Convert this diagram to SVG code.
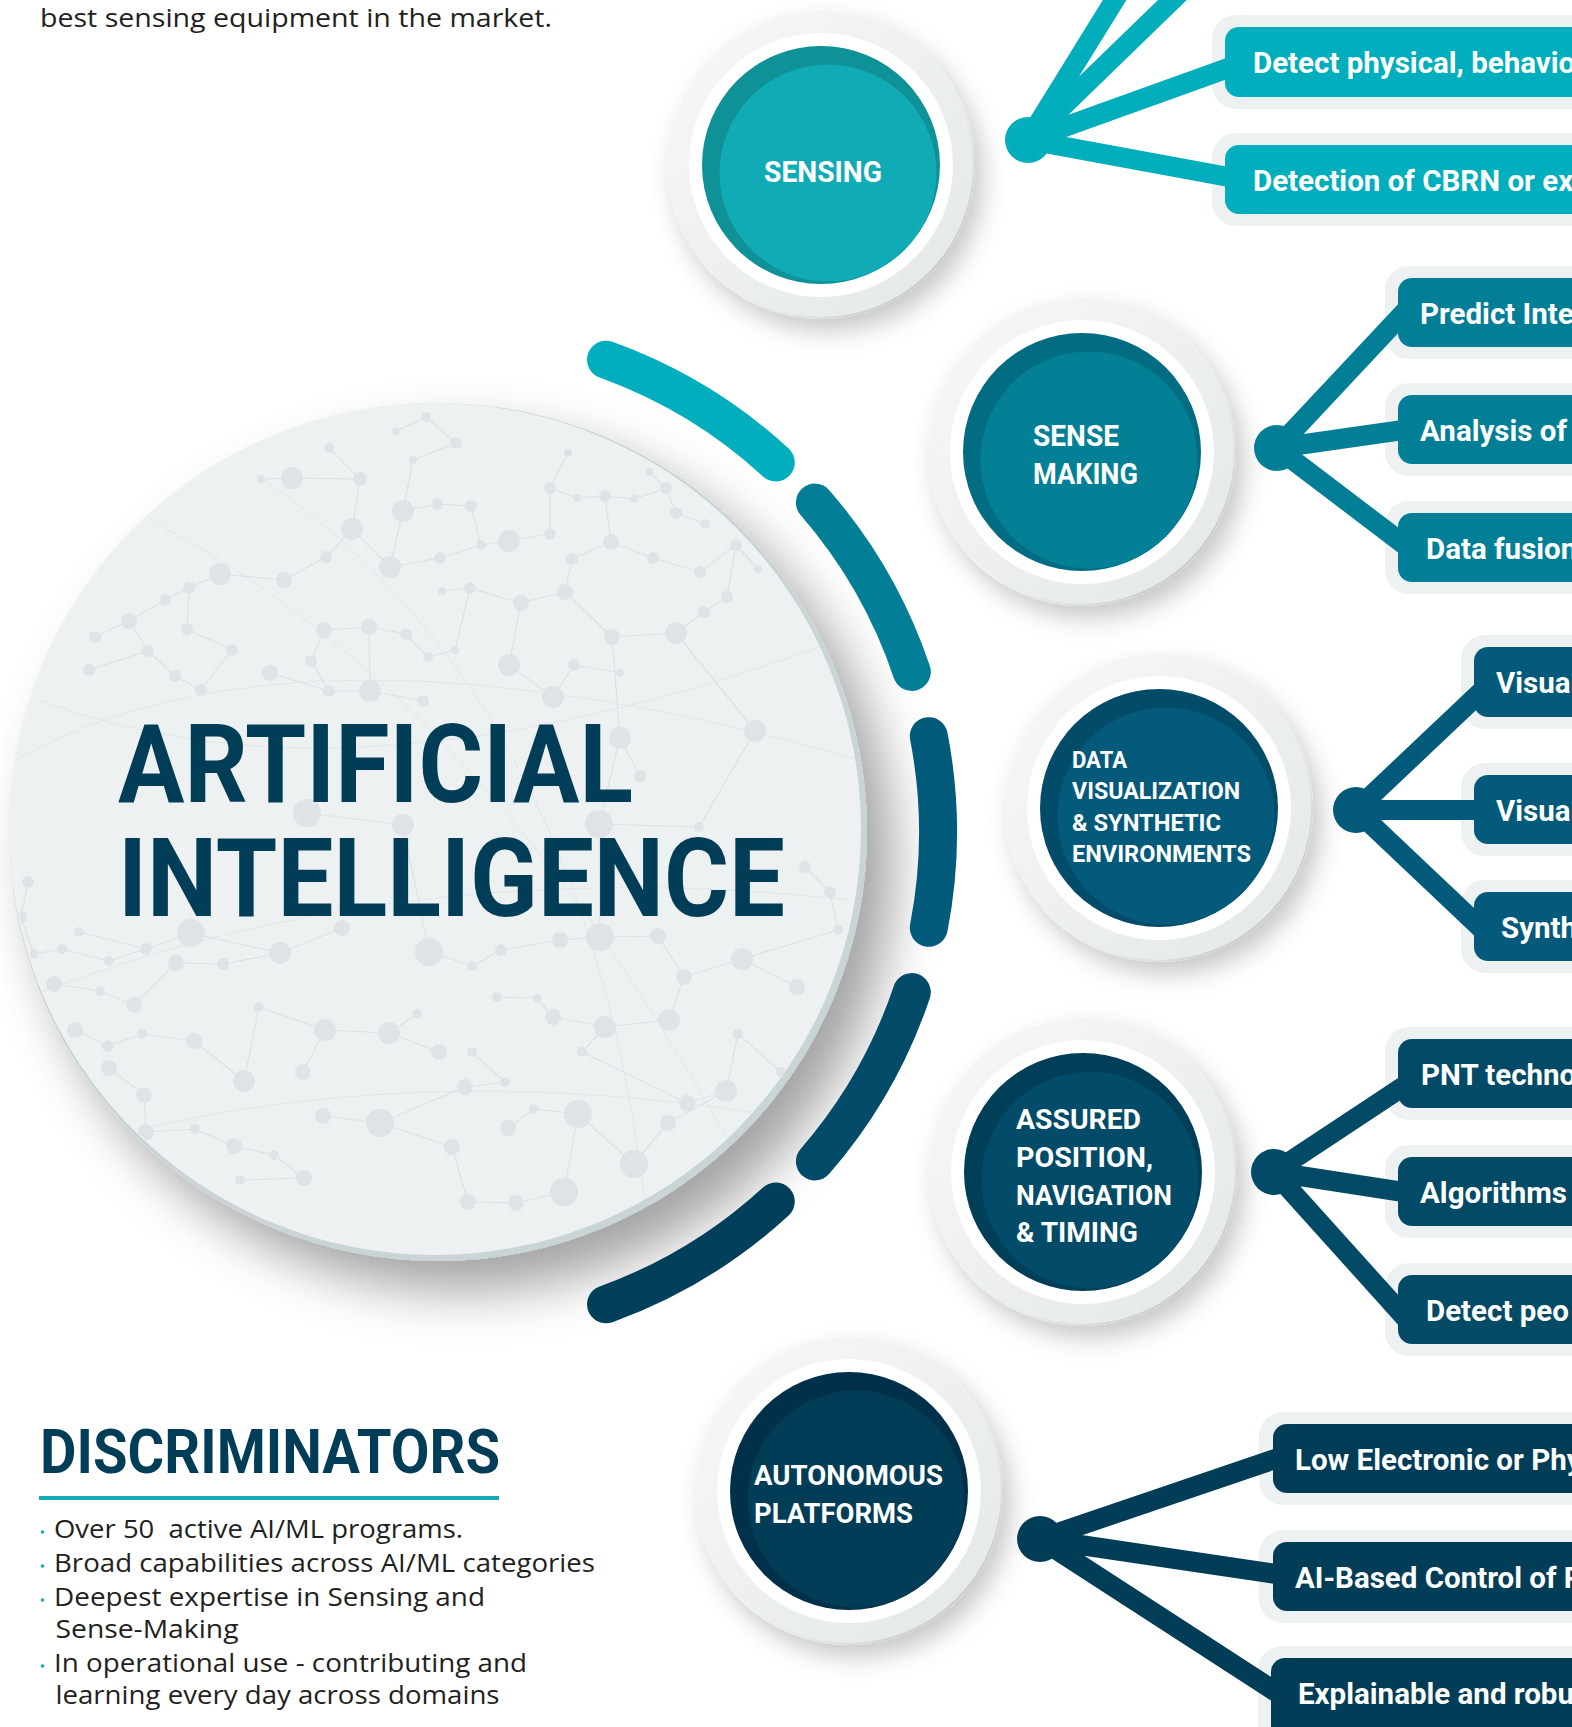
<svg xmlns="http://www.w3.org/2000/svg" width="1572" height="1727" viewBox="0 0 1572 1727">
<style>
.lbl{font-family:Roboto,"Liberation Sans",sans-serif;font-weight:700;fill:#ffffff}
.btxt{font-family:Roboto,"Liberation Sans",sans-serif;font-weight:700;font-size:29.5px;fill:#ffffff}
.body{font-family:"Open Sans","Liberation Sans",sans-serif;font-size:25px;fill:#231f20}
.halo{fill:#eef1f2}
.dot{fill:#dfe3e6}
.net{fill:none;stroke:#dde1e4;stroke-width:1.2}
.curve{fill:none;stroke:#e2e6e8;stroke-width:1}
.arc{fill:none;stroke-width:38;stroke-linecap:round}
.con{fill:none;stroke-width:20}
.bul{fill:#14a9b5}
</style>
<defs>
<linearGradient id="haloGrad" x1="0" y1="0" x2="1" y2="1">
<stop offset="0" stop-color="#f7f8f9"/>
<stop offset="1" stop-color="#e3e7e8"/>
</linearGradient>
<linearGradient id="rimGrad" x1="0" y1="0" x2="1" y2="1">
<stop offset="0.45" stop-color="#ffffff" stop-opacity="0"/>
<stop offset="1" stop-color="#a8a8a8"/>
</linearGradient>
<filter id="nshadow" x="-30%" y="-30%" width="170%" height="170%">
<feDropShadow dx="8" dy="12" stdDeviation="12" flood-color="#000" flood-opacity="0.22"/>
</filter>
<filter id="bigshadow" x="-20%" y="-20%" width="150%" height="150%">
<feDropShadow dx="26" dy="30" stdDeviation="26" flood-color="#000" flood-opacity="0.36"/>
</filter>
<clipPath id="bigclip"><circle cx="436" cy="830" r="425"/></clipPath>
</defs>
<rect width="1572" height="1727" fill="#ffffff"/>

<g id="intro-text">
<text class="body" x="40" y="27" textLength="512" lengthAdjust="spacingAndGlyphs">best sensing equipment in the market.</text>
</g>

<g id="ai-core">
<circle cx="438" cy="832" r="429" fill="#c8d4d5" filter="url(#bigshadow)"/>
<circle cx="435" cy="829" r="426" fill="#eef1f2"/>
<g clip-path="url(#bigclip)">
<path class="curve" d="M15 760Q300 600 860 760M20 1000Q400 850 850 900M60 1150Q400 1050 800 1120M150 520Q500 700 760 1200M250 470Q600 700 650 1250M40 700Q350 820 840 640"/>
<path class="net" d="M329 448L360 479M360 479L292 478M292 478L261 479M360 479L352 529M426 417L456 443M396 431L426 417M456 443L413 460M413 460L403 511M403 511L437 504M437 504L471 506M403 511L390 567M471 506L481 545M352 529L390 567M352 529L326 557M390 567L440 558M440 558L481 545M481 545L509 541M509 541L550 534M550 534L550 488M568 453L550 488M550 488L577 498M577 498L605 496M605 496L634 499M634 499L666 488M666 488L649 472M666 488L676 513M676 513L705 524M605 496L611 542M611 542L653 558M653 558L700 572M700 572L736 545M736 545L758 569M736 545L727 597M727 597L704 612M704 612L676 633M676 633L612 637M612 637L565 592M565 592L572 559M572 559L611 542M565 592L521 603M521 603L470 588M470 588L442 591M369 627L406 634M406 634L428 657M428 657L455 650M455 650L470 588M509 665L521 603M509 665L553 697M553 697L574 665M574 665L620 673M369 627L370 691M370 691L329 691M329 691L311 661M311 661L324 630M324 630L369 627M284 580L326 557M284 580L220 574M220 574L189 588M189 588L165 600M165 600L129 621M129 621L95 637M129 621L148 651M148 651L89 670M148 651L175 676M175 676L201 690M201 690L232 650M232 650L187 629M187 629L189 588M270 673L329 691M423 701L370 691M755 731L676 633M620 738L612 637M620 738L640 776M307 813L403 825M403 825L429 952M599 824L620 738M599 824L699 827M699 827L755 731M805 867L830 892M830 892L838 930M838 930L742 959M742 959L797 987M742 959L684 977M684 977L669 1020M669 1020L605 1027M605 1027L553 1017M553 1017L537 998M537 998L497 997M658 936L600 937M600 937L560 940M560 940L501 950M501 950L472 966M429 952L472 966M342 928L280 953M280 953L191 933M191 933L146 949M146 949L109 961M109 961L62 949M62 949L34 954M34 954L21 917M21 917L28 882M79 932L146 949M54 984L100 991M100 991L134 1005M134 1005L176 963M176 963L223 964M223 964L280 953M75 1030L108 1046M108 1046L142 1034M142 1034L194 1041M194 1041L244 1081M244 1081L259 1007M259 1007L325 1030M325 1030L389 1033M389 1033L417 1014M389 1033L439 1052M325 1030L303 1072M109 1068L144 1095M144 1095L146 1132M146 1132L195 1129M195 1129L234 1146M234 1146L274 1155M274 1155L304 1178M304 1178L240 1180M323 1116L380 1123M380 1123L465 1087M465 1087L505 1082M505 1082L472 1052M452 1147L468 1202M468 1202L516 1203M516 1203L564 1192M508 1128L534 1109M534 1109L578 1114M578 1114L634 1164M634 1164L668 1123M668 1123L726 1091M726 1091L738 1034M738 1034L781 1072M582 1052L687 1103M687 1103L726 1091M605 1027L582 1052M600 937L599 824M658 936L684 977M564 1192L578 1114M380 1123L452 1147"/>
<g class="dot">
<circle cx="396" cy="431" r="4"/><circle cx="426" cy="417" r="5"/><circle cx="456" cy="443" r="6"/><circle cx="413" cy="460" r="4"/><circle cx="329" cy="448" r="5"/><circle cx="360" cy="479" r="7"/><circle cx="292" cy="478" r="11"/><circle cx="261" cy="479" r="4"/><circle cx="403" cy="511" r="11"/><circle cx="437" cy="504" r="6"/><circle cx="471" cy="506" r="6"/><circle cx="352" cy="529" r="11"/><circle cx="326" cy="557" r="6"/><circle cx="390" cy="567" r="11"/><circle cx="440" cy="558" r="6"/><circle cx="481" cy="545" r="5"/><circle cx="509" cy="541" r="11"/><circle cx="550" cy="534" r="6"/><circle cx="568" cy="453" r="4"/><circle cx="550" cy="488" r="6"/><circle cx="577" cy="498" r="4"/><circle cx="605" cy="496" r="6"/><circle cx="634" cy="499" r="4"/><circle cx="666" cy="488" r="6"/><circle cx="649" cy="472" r="4"/><circle cx="676" cy="513" r="6"/><circle cx="705" cy="524" r="5"/><circle cx="611" cy="542" r="8"/><circle cx="653" cy="558" r="6"/><circle cx="700" cy="572" r="6"/><circle cx="736" cy="545" r="6"/><circle cx="758" cy="569" r="4"/><circle cx="727" cy="597" r="6"/><circle cx="704" cy="612" r="6"/><circle cx="676" cy="633" r="11"/><circle cx="612" cy="637" r="8"/><circle cx="565" cy="592" r="8"/><circle cx="572" cy="559" r="6"/><circle cx="521" cy="603" r="8"/><circle cx="470" cy="588" r="6"/><circle cx="442" cy="591" r="4"/><circle cx="369" cy="627" r="8"/><circle cx="406" cy="634" r="6"/><circle cx="428" cy="657" r="5"/><circle cx="455" cy="650" r="4"/><circle cx="509" cy="665" r="11"/><circle cx="553" cy="697" r="11"/><circle cx="574" cy="665" r="6"/><circle cx="620" cy="673" r="4"/><circle cx="370" cy="691" r="11"/><circle cx="329" cy="691" r="6"/><circle cx="311" cy="661" r="6"/><circle cx="324" cy="630" r="8"/><circle cx="284" cy="580" r="8"/><circle cx="270" cy="673" r="8"/><circle cx="220" cy="574" r="11"/><circle cx="189" cy="588" r="6"/><circle cx="165" cy="600" r="6"/><circle cx="129" cy="621" r="8"/><circle cx="95" cy="637" r="6"/><circle cx="148" cy="651" r="6"/><circle cx="89" cy="670" r="6"/><circle cx="175" cy="676" r="6"/><circle cx="201" cy="690" r="6"/><circle cx="232" cy="650" r="6"/><circle cx="187" cy="629" r="6"/><circle cx="423" cy="701" r="6"/><circle cx="755" cy="731" r="11"/><circle cx="620" cy="738" r="11"/><circle cx="640" cy="776" r="6"/><circle cx="307" cy="813" r="14"/><circle cx="403" cy="825" r="11"/><circle cx="599" cy="824" r="14"/><circle cx="699" cy="827" r="5"/><circle cx="805" cy="867" r="6"/><circle cx="830" cy="892" r="6"/><circle cx="838" cy="930" r="5"/><circle cx="742" cy="959" r="11"/><circle cx="797" cy="987" r="8"/><circle cx="684" cy="977" r="8"/><circle cx="669" cy="1020" r="11"/><circle cx="605" cy="1027" r="11"/><circle cx="553" cy="1017" r="8"/><circle cx="537" cy="998" r="4"/><circle cx="497" cy="997" r="5"/><circle cx="658" cy="936" r="8"/><circle cx="600" cy="937" r="14"/><circle cx="560" cy="940" r="8"/><circle cx="501" cy="950" r="6"/><circle cx="429" cy="952" r="14"/><circle cx="472" cy="966" r="5"/><circle cx="342" cy="928" r="8"/><circle cx="280" cy="953" r="11"/><circle cx="191" cy="933" r="14"/><circle cx="146" cy="949" r="6"/><circle cx="109" cy="961" r="5"/><circle cx="62" cy="949" r="5"/><circle cx="34" cy="954" r="5"/><circle cx="21" cy="917" r="6"/><circle cx="28" cy="882" r="6"/><circle cx="79" cy="932" r="5"/><circle cx="54" cy="984" r="8"/><circle cx="100" cy="991" r="5"/><circle cx="134" cy="1005" r="8"/><circle cx="176" cy="963" r="8"/><circle cx="223" cy="964" r="6"/><circle cx="75" cy="1030" r="8"/><circle cx="108" cy="1046" r="6"/><circle cx="142" cy="1034" r="5"/><circle cx="194" cy="1041" r="8"/><circle cx="244" cy="1081" r="11"/><circle cx="259" cy="1007" r="5"/><circle cx="325" cy="1030" r="11"/><circle cx="389" cy="1033" r="11"/><circle cx="417" cy="1014" r="5"/><circle cx="439" cy="1052" r="8"/><circle cx="303" cy="1072" r="8"/><circle cx="109" cy="1068" r="8"/><circle cx="144" cy="1095" r="8"/><circle cx="146" cy="1132" r="8"/><circle cx="195" cy="1129" r="5"/><circle cx="234" cy="1146" r="8"/><circle cx="274" cy="1155" r="5"/><circle cx="304" cy="1178" r="8"/><circle cx="240" cy="1180" r="5"/><circle cx="323" cy="1116" r="8"/><circle cx="380" cy="1123" r="14"/><circle cx="465" cy="1087" r="8"/><circle cx="505" cy="1082" r="5"/><circle cx="472" cy="1052" r="5"/><circle cx="452" cy="1147" r="8"/><circle cx="468" cy="1202" r="8"/><circle cx="516" cy="1203" r="8"/><circle cx="564" cy="1192" r="14"/><circle cx="508" cy="1128" r="8"/><circle cx="534" cy="1109" r="5"/><circle cx="578" cy="1114" r="14"/><circle cx="634" cy="1164" r="14"/><circle cx="668" cy="1123" r="8"/><circle cx="726" cy="1091" r="11"/><circle cx="738" cy="1034" r="5"/><circle cx="781" cy="1072" r="5"/><circle cx="582" cy="1052" r="5"/><circle cx="687" cy="1103" r="8"/>
</g>
</g>
<text class="lbl" x="118" y="802" font-size="109" style="fill:#023d57" textLength="515" lengthAdjust="spacingAndGlyphs">ARTIFICIAL</text>
<text class="lbl" x="118" y="916" font-size="109" style="fill:#023d57" textLength="667" lengthAdjust="spacingAndGlyphs">INTELLIGENCE</text>
</g>

<g id="ring-arcs">
<path class="arc" stroke="#01aebd" d="M606 359.7A502 502 0 0 1 775.8 462.5"/>
<path class="arc" stroke="#027f96" d="M814.9 502.6A502 502 0 0 1 911.8 671.9"/>
<path class="arc" stroke="#025a7a" d="M928.8 736.2A502 502 0 0 1 928.8 927.8"/>
<path class="arc" stroke="#024b69" d="M911.8 992.1A502 502 0 0 1 814.9 1161.4"/>
<path class="arc" stroke="#023f5a" d="M775.8 1201.5A502 502 0 0 1 606 1304.3"/>
</g>

<g id="node-sensing">
<circle cx="821" cy="165" r="154" fill="url(#haloGrad)" filter="url(#nshadow)"/>
<circle cx="821" cy="165" r="153" fill="none" stroke="url(#rimGrad)" stroke-width="2"/>
<circle cx="821" cy="165" r="132" fill="#ffffff"/>
<circle cx="821" cy="165" r="119" fill="#0e9298"/>
<circle cx="828" cy="173" r="108.5" fill="#10abb5"/>
<text class="lbl" x="764" y="182" font-size="30" textLength="118" lengthAdjust="spacingAndGlyphs">SENSING</text>
</g>

<g id="node-sense-making">
<circle cx="1082" cy="452" r="154" fill="url(#haloGrad)" filter="url(#nshadow)"/>
<circle cx="1082" cy="452" r="153" fill="none" stroke="url(#rimGrad)" stroke-width="2"/>
<circle cx="1082" cy="452" r="132" fill="#ffffff"/>
<circle cx="1082" cy="452" r="119" fill="#026d82"/>
<circle cx="1089" cy="460" r="108.5" fill="#037f96"/>
<text class="lbl" x="1033" y="446" font-size="29.5" textLength="86" lengthAdjust="spacingAndGlyphs">SENSE</text>
<text class="lbl" x="1033" y="484" font-size="29.5" textLength="105" lengthAdjust="spacingAndGlyphs">MAKING</text>
</g>

<g id="node-data-visualization">
<circle cx="1159" cy="808" r="154" fill="url(#haloGrad)" filter="url(#nshadow)"/>
<circle cx="1159" cy="808" r="153" fill="none" stroke="url(#rimGrad)" stroke-width="2"/>
<circle cx="1159" cy="808" r="132" fill="#ffffff"/>
<circle cx="1159" cy="808" r="119" fill="#024c69"/>
<circle cx="1166" cy="816" r="108.5" fill="#035a7a"/>
<text class="lbl" x="1072" y="768" font-size="24.5" textLength="55" lengthAdjust="spacingAndGlyphs">DATA</text>
<text class="lbl" x="1072" y="799" font-size="24.5" textLength="168" lengthAdjust="spacingAndGlyphs">VISUALIZATION</text>
<text class="lbl" x="1072" y="831" font-size="24.5" textLength="149" lengthAdjust="spacingAndGlyphs">&amp; SYNTHETIC</text>
<text class="lbl" x="1072" y="862" font-size="24.5" textLength="179" lengthAdjust="spacingAndGlyphs">ENVIRONMENTS</text>
</g>

<g id="node-assured-pnt">
<circle cx="1083" cy="1172" r="154" fill="url(#haloGrad)" filter="url(#nshadow)"/>
<circle cx="1083" cy="1172" r="153" fill="none" stroke="url(#rimGrad)" stroke-width="2"/>
<circle cx="1083" cy="1172" r="132" fill="#ffffff"/>
<circle cx="1083" cy="1172" r="119" fill="#013e58"/>
<circle cx="1090" cy="1180" r="108.5" fill="#024b69"/>
<text class="lbl" x="1016" y="1129" font-size="28.5" textLength="125" lengthAdjust="spacingAndGlyphs">ASSURED</text>
<text class="lbl" x="1016" y="1167" font-size="28.5" textLength="137" lengthAdjust="spacingAndGlyphs">POSITION,</text>
<text class="lbl" x="1016" y="1205" font-size="28.5" textLength="156" lengthAdjust="spacingAndGlyphs">NAVIGATION</text>
<text class="lbl" x="1016" y="1242" font-size="28.5" textLength="122" lengthAdjust="spacingAndGlyphs">&amp; TIMING</text>
</g>

<g id="node-autonomous">
<circle cx="849" cy="1491" r="154" fill="url(#haloGrad)" filter="url(#nshadow)"/>
<circle cx="849" cy="1491" r="153" fill="none" stroke="url(#rimGrad)" stroke-width="2"/>
<circle cx="849" cy="1491" r="132" fill="#ffffff"/>
<circle cx="849" cy="1491" r="119" fill="#01314a"/>
<circle cx="856" cy="1499" r="108.5" fill="#023d57"/>
<text class="lbl" x="754" y="1485" font-size="28.5" textLength="189" lengthAdjust="spacingAndGlyphs">AUTONOMOUS</text>
<text class="lbl" x="754" y="1523" font-size="28.5" textLength="159" lengthAdjust="spacingAndGlyphs">PLATFORMS</text>
</g>

<g id="box-halos" class="halo">
<rect x="1212" y="15" width="400" height="94" rx="24"/>
<rect x="1212" y="133" width="400" height="93" rx="24"/>
<rect x="1385" y="266" width="250" height="93" rx="24"/>
<rect x="1385" y="383" width="250" height="93" rx="24"/>
<rect x="1385" y="501" width="250" height="93" rx="24"/>
<rect x="1461" y="635" width="200" height="94" rx="24"/>
<rect x="1461" y="763" width="200" height="93" rx="24"/>
<rect x="1461" y="880" width="200" height="93" rx="24"/>
<rect x="1385" y="1027" width="250" height="93" rx="24"/>
<rect x="1385" y="1145" width="250" height="93" rx="24"/>
<rect x="1385" y="1263" width="250" height="93" rx="24"/>
<rect x="1259" y="1412" width="400" height="93" rx="24"/>
<rect x="1259" y="1530" width="400" height="93" rx="24"/>
<rect x="1258" y="1646" width="400" height="120" rx="24"/>
</g>

<g id="connectors">
<g stroke="#02adbc" class="con">
<path d="M1028 140L1127 -20M1028 140L1193 -20M1028 140L1245 62M1028 140L1245 180"/>
</g>
<circle cx="1028" cy="140" r="23" fill="#02adbc"/>
<g stroke="#027f96" class="con">
<path d="M1277 448L1410 306M1277 448L1410 429M1277 448L1410 549"/>
</g>
<circle cx="1277" cy="448" r="23" fill="#027f96"/>
<g stroke="#035a7a" class="con">
<path d="M1356 810L1486 687M1356 810L1486 810M1356 810L1486 933"/>
</g>
<circle cx="1356" cy="810" r="23" fill="#035a7a"/>
<g stroke="#024a66" class="con">
<path d="M1274 1172L1410 1082M1274 1172L1410 1193M1274 1172L1410 1323"/>
</g>
<circle cx="1274" cy="1172" r="23" fill="#024a66"/>
<g stroke="#023d57" class="con">
<path d="M1040 1539L1290 1454M1040 1539L1290 1576M1040 1539L1290 1701"/>
</g>
<circle cx="1040" cy="1539" r="23" fill="#023d57"/>
</g>

<g id="box-sensing-1"><rect x="1225" y="27" width="380" height="70" rx="14" fill="#00aebd"/><text class="btxt" x="1253" y="73">Detect physical, behavio</text></g>
<g id="box-sensing-2"><rect x="1225" y="145" width="380" height="69" rx="14" fill="#00aebd"/><text class="btxt" x="1253" y="190.5">Detection of CBRN or ex</text></g>
<g id="box-sensemaking-1"><rect x="1398" y="278" width="230" height="69" rx="14" fill="#027f96"/><text class="btxt" x="1420" y="323.5">Predict Inte</text></g>
<g id="box-sensemaking-2"><rect x="1398" y="395" width="230" height="69" rx="14" fill="#027f96"/><text class="btxt" x="1420" y="440.5">Analysis of</text></g>
<g id="box-sensemaking-3"><rect x="1398" y="513" width="230" height="69" rx="14" fill="#027f96"/><text class="btxt" x="1426" y="558.5">Data fusion</text></g>
<g id="box-dataviz-1"><rect x="1474" y="647" width="180" height="70" rx="14" fill="#035a7a"/><text class="btxt" x="1496" y="693">Visual</text></g>
<g id="box-dataviz-2"><rect x="1474" y="775" width="180" height="69" rx="14" fill="#035a7a"/><text class="btxt" x="1496" y="820.5">Visual</text></g>
<g id="box-dataviz-3"><rect x="1474" y="892" width="180" height="69" rx="14" fill="#035a7a"/><text class="btxt" x="1501" y="937.5">Synth</text></g>
<g id="box-pnt-1"><rect x="1398" y="1039" width="230" height="69" rx="14" fill="#024a66"/><text class="btxt" x="1421" y="1084.5">PNT techno</text></g>
<g id="box-pnt-2"><rect x="1398" y="1157" width="230" height="69" rx="14" fill="#024a66"/><text class="btxt" x="1420" y="1202.5">Algorithms</text></g>
<g id="box-pnt-3"><rect x="1398" y="1275" width="230" height="69" rx="14" fill="#024a66"/><text class="btxt" x="1426" y="1320.5">Detect peo</text></g>
<g id="box-autonomous-1"><rect x="1273" y="1424" width="380" height="69" rx="14" fill="#023d57"/><text class="btxt" x="1295" y="1469.5">Low Electronic or Phy</text></g>
<g id="box-autonomous-2"><rect x="1273" y="1542" width="380" height="69" rx="14" fill="#023d57"/><text class="btxt" x="1295" y="1587.5">AI-Based Control of P</text></g>
<g id="box-autonomous-3"><rect x="1271" y="1658" width="380" height="100" rx="14" fill="#023d57"/><text class="btxt" x="1298" y="1703.5">Explainable and robu</text></g>

<g id="discriminators">
<text class="lbl" x="40" y="1473" font-size="62" style="fill:#023d57" textLength="460" lengthAdjust="spacingAndGlyphs">DISCRIMINATORS</text>
<rect x="39" y="1496" width="460" height="4" fill="#14a9b5"/>
<circle class="bul" cx="42.5" cy="1532" r="1.8"/>
<text class="body" x="54" y="1538" textLength="409" lengthAdjust="spacingAndGlyphs">Over 50&#160; active AI/ML programs.</text>
<circle class="bul" cx="42.5" cy="1566" r="1.8"/>
<text class="body" x="54" y="1572" textLength="541" lengthAdjust="spacingAndGlyphs">Broad capabilities across AI/ML categories</text>
<circle class="bul" cx="42.5" cy="1600" r="1.8"/>
<text class="body" x="54" y="1606" textLength="431" lengthAdjust="spacingAndGlyphs">Deepest expertise in Sensing and</text>
<text class="body" x="55.5" y="1638" textLength="183" lengthAdjust="spacingAndGlyphs">Sense-Making</text>
<circle class="bul" cx="42.5" cy="1666" r="1.8"/>
<text class="body" x="54" y="1672" textLength="473" lengthAdjust="spacingAndGlyphs">In operational use - contributing and</text>
<text class="body" x="55.5" y="1704" textLength="444" lengthAdjust="spacingAndGlyphs">learning every day across domains</text>
</g>
</svg>
